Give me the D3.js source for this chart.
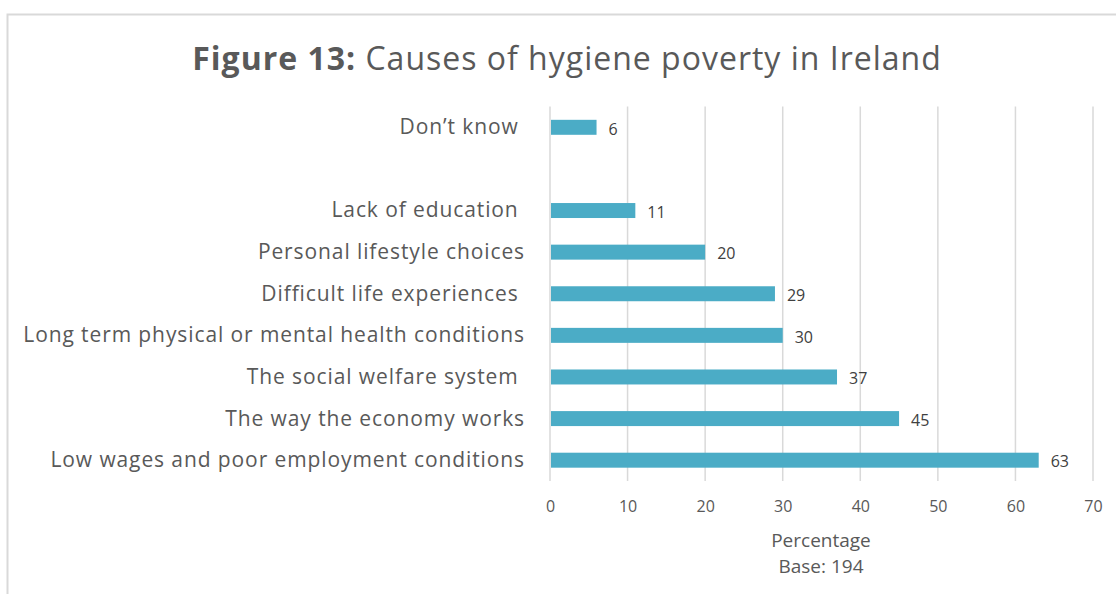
<!DOCTYPE html>
<html>
<head>
<meta charset="utf-8">
<script src="https://cdn.jsdelivr.net/npm/d3@7"></script>
<style>
  html, body { margin: 0; padding: 0; background: #fff; }
  svg text { font-family: "Open Sans", sans-serif; white-space: pre; }
</style>
</head>
<body>
<svg id="chart" width="1116" height="594"></svg>
<script>
// Survey responses: causes of hygiene poverty (percentage of respondents)
const categories = [
  "Don’t know ",
  " ",
  "Lack of education ",
  "Personal lifestyle choices",
  "Difficult life experiences ",
  "Long term physical or mental health conditions",
  "The social welfare system ",
  "The way the economy works",
  "Low wages and poor employment conditions"
];
const values = [6, null, 11, 20, 29, 30, 37, 45, 63];
const xTicks = [0, 10, 20, 30, 40, 50, 60, 70];
const titleBold = "Figure 13:";
const titleRest = " Causes of hygiene poverty in Ireland";
const axisTitle = ["Percentage", "Base: 194"];

const rows = categories.map((c, i) => ({ category: c, value: values[i] }));

const svg = d3.select("#chart");
const textColor = "#595959";
const gridColor = "#d9d9d9";
const barColor = "#4bacc6";

// Chart frame
svg.append("rect")
  .attr("x", 7.5).attr("y", 14.5)
  .attr("width", 1200).attr("height", 700)
  .attr("fill", "none")
  .attr("stroke", "#d9d9d9")
  .attr("stroke-width", 2);

const plot = { left: 550, right: 1093, top: 106.5, bottom: 481 };

const x = d3.scaleLinear().domain([0, 70]).range([plot.left, plot.right]);
const y = d3.scaleBand().domain(categories).range([plot.top, plot.bottom])
  .paddingInner(0.64).paddingOuter(0.32);

// Title
const title = svg.append("text")
  .attr("x", 567).attr("y", 69.5)
  .attr("text-anchor", "middle")
  .attr("fill", textColor)
  .attr("font-size", 32)
  .attr("letter-spacing", 1);
title.append("tspan").attr("font-weight", "bold").text(titleBold);
title.append("tspan").text(titleRest);

// Vertical gridlines (including the zero line)
svg.append("g")
  .selectAll("line")
  .data(xTicks)
  .join("line")
  .attr("x1", d => x(d)).attr("x2", d => x(d))
  .attr("y1", plot.top).attr("y2", plot.bottom)
  .attr("stroke", gridColor)
  .attr("stroke-width", 1.5);

// X axis tick labels
const xAxis = svg.append("g")
  .attr("transform", `translate(0,${plot.bottom})`)
  .call(d3.axisBottom(x).tickValues(xTicks).tickSize(0).tickPadding(20).tickFormat(d3.format("d")));
xAxis.select(".domain").remove();
xAxis.selectAll("text")
  .attr("fill", textColor)
  .attr("font-size", 16)
  .attr("font-family", null);

// Category labels
const yAxis = svg.append("g")
  .attr("transform", `translate(525,0)`)
  .call(d3.axisLeft(y).tickSize(0).tickPadding(0));
yAxis.select(".domain").remove();
yAxis.selectAll("text")
  .attr("fill", textColor)
  .attr("font-size", 21)
  .attr("letter-spacing", 0.9)
  .attr("font-family", null)
  .attr("dy", "0.33em");

// Bars
const data = rows.filter(d => d.value != null);
svg.append("g")
  .selectAll("rect")
  .data(data)
  .join("rect")
  .attr("x", x(0) + 1)
  .attr("y", d => y(d.category))
  .attr("width", d => x(d.value) - x(0) - 1)
  .attr("height", y.bandwidth())
  .attr("fill", barColor);

// Value labels
svg.append("g")
  .selectAll("text")
  .data(data)
  .join("text")
  .attr("x", d => x(d.value) + 12)
  .attr("y", d => y(d.category) + y.bandwidth() / 2)
  .attr("dy", "0.45em")
  .attr("fill", "#404040")
  .attr("font-size", 16)
  .text(d => d.value);

// Axis title
svg.append("g")
  .selectAll("text")
  .data(axisTitle)
  .join("text")
  .attr("x", 821)
  .attr("y", (d, i) => 547 + i * 26)
  .attr("text-anchor", "middle")
  .attr("fill", textColor)
  .attr("font-size", 19)
  .text(d => d);
</script>
</body>
</html>
